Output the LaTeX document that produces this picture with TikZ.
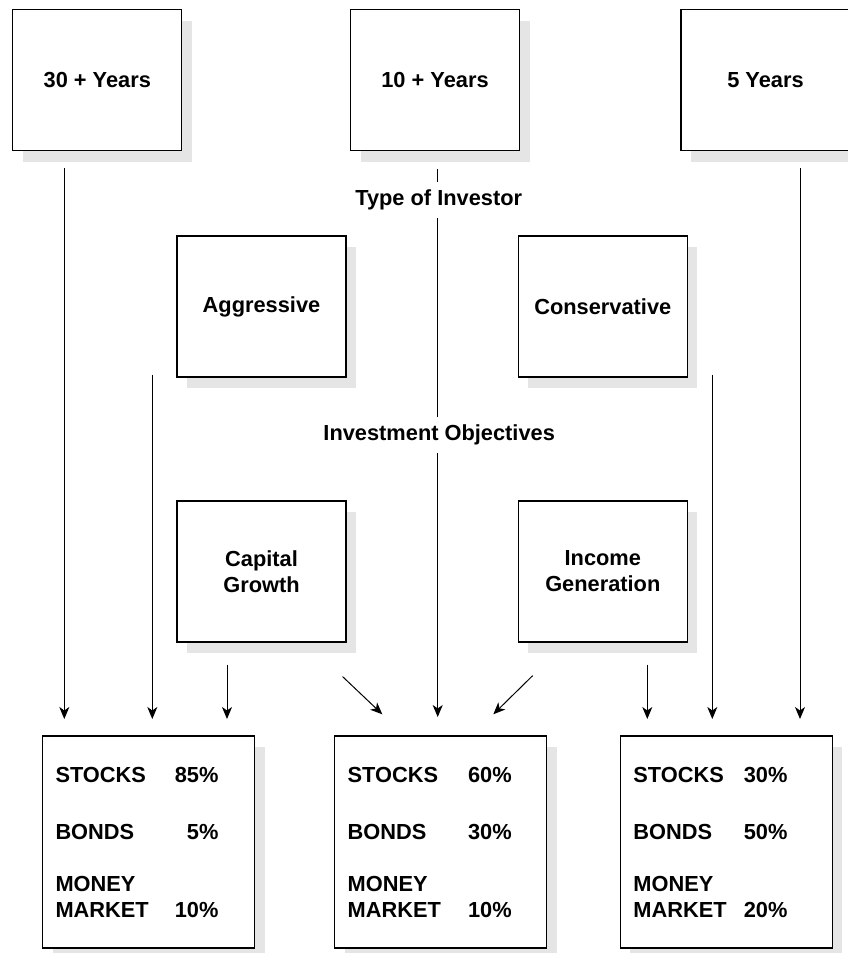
\documentclass[tikz,border=0pt]{standalone}
\usepackage{fontspec}
\setmainfont{Liberation Sans}
\usetikzlibrary{arrows.meta,shadows}

\tikzset{
    boxbase/.style={
        rectangle,
        draw=black,
        line width=1.2pt,
        fill=white,
        drop shadow={shadow xshift=10pt, shadow yshift=-11pt, fill=black!10, opacity=1},
        inner sep=0pt
    },
    termbox/.style={boxbase, minimum width=169pt, minimum height=141pt, align=center},
    allocbox/.style={boxbase, minimum height=212pt, text width=186pt, inner xsep=13pt, align=left},
    steplabel/.style={inner xsep=2pt, inner ysep=8pt},
    arr/.style={-{Stealth[length=12pt,width=10pt,inset=3.5pt]}, line width=1pt, draw=black},
    plain/.style={line width=1pt, draw=black},
}

% one row of labels and percentages, #1 = row width
\newcommand{\allocrows}[4]{%
    \makebox[#1][l]{STOCKS\hfill#2}\\[31pt]
    \makebox[#1][l]{BONDS\hfill#3}\\[26pt]
    MONEY\\
    \makebox[#1][l]{MARKET\hfill#4}}

\begin{document}
\begin{tikzpicture}[x=1pt, y=-1pt, font=\bfseries\fontsize{21.8}{26}\selectfont]
    \useasboundingbox (0,0) rectangle (848,953);

    % time horizon
    \node[termbox] (yr30) at (97.3,80.3) {30 + Years};
    \node[termbox] (yr10) at (435,80.3) {10 + Years};
    \node[termbox] (yr5) at (765.5,80.3) {5 Years};

    % type of investor
    \node[steplabel, anchor=base] (typelbl) at (438.7,205.7) {Type of Investor};
    \node[termbox] (aggr) at (261.5,306.5) {Aggressive};
    \node[termbox] (cons) at (602.8,306.5) {Conservative};

    % objectives
    \node[steplabel, anchor=base] (objlbl) at (439.2,440.7) {Investment Objectives};
    \node[termbox] (capgrowth) at (261.5,571.5) {Capital\\Growth};
    \node[termbox] (income) at (602.8,571.5) {Income\\Generation};

    % allocations
    \node[allocbox] (alloc1) at (148.5,842) {\allocrows{163pt}{85\%}{5\%}{10\%}};
    \node[allocbox] (alloc2) at (440.7,842) {\allocrows{164pt}{60\%}{30\%}{10\%}};
    \node[allocbox] (alloc3) at (726.4,842) {\allocrows{154pt}{30\%}{50\%}{20\%}};

    \coordinate (tipA) at (64.3,719);
    \coordinate (tipB) at (152.3,719);
    \coordinate (tipC) at (227,719);
    \coordinate (tipD) at (382.3,714.3);
    \coordinate (tipE) at (437.7,717);
    \coordinate (tipF) at (493.3,714.3);
    \coordinate (tipG) at (647.3,719);
    \coordinate (tipH) at (712.3,719);
    \coordinate (tipI) at (800,719);

    \draw[arr] (yr30.south -| tipA) ++(0,17) -- (tipA);
    \draw[arr] (aggr.south -| tipB) ++(0,-3) -- (tipB);
    \draw[arr] (capgrowth.south -| tipC) ++(0,22) -- (tipC);
    \draw[arr] (capgrowth.south east) ++(-4,34) -- (tipD);

    \draw[plain] (yr10.south -| tipE) ++(0,18) -- (typelbl.north -| tipE);
    \draw[plain] (typelbl.south -| tipE) -- (objlbl.north -| tipE);
    \draw[arr] (objlbl.south -| tipE) -- (tipE);

    \draw[arr] (income.south west) ++(15,33) -- (tipF);
    \draw[arr] (income.south -| tipG) ++(0,22) -- (tipG);
    \draw[arr] (cons.south -| tipH) ++(0,-3) -- (tipH);
    \draw[arr] (yr5.south -| tipI) ++(0,17) -- (tipI);
\end{tikzpicture}
\end{document}
